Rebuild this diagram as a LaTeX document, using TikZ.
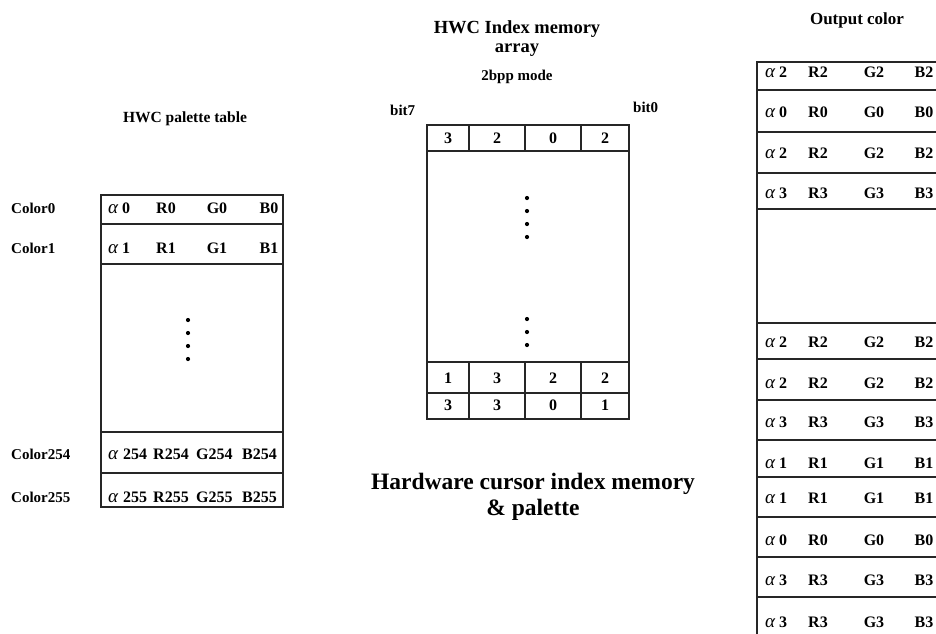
\documentclass[tikz,border=0pt]{standalone}
\usepackage{fontspec}
\setmainfont{Liberation Serif}
\begin{document}
\begin{tikzpicture}[x=1pt,y=-1pt,
  grid/.style={draw=black!85,line width=1.1pt},
  lbl/.style={inner sep=0pt,anchor=base,font=\fontsize{16}{18}\selectfont\bfseries},
  lbll/.style={lbl,anchor=base west},
  side/.style={lbll,font=\fontsize{15}{17}\selectfont\bfseries},
  dotm/.style={fill=black,circle,inner sep=0pt,minimum size=4.2pt}]
\useasboundingbox (0,0) rectangle (936,633);
\clip (0,0) rectangle (936,633);
\newcommand{\al}{{\fontsize{19}{18}\selectfont\itshape\mdseries α}}
% ---------------- left: palette table
\node[lbl,font=\fontsize{15.5}{18}\selectfont\bfseries] (t1) at (185,122) {HWC palette table};
\draw[grid] (101,195) rectangle (283,507);
\foreach \yy in {224,264,432,473} \draw[grid] (101,\yy) -- (283,\yy);
\node[side] (c0) at (11,213) {Color0};
\node[side] (c1) at (11,253) {Color1};
\node[side] (c254) at (11,459) {Color254};
\node[side] (c255) at (11,502) {Color255};
\node[lbll] (a0) at (108,213) {\al\ 0};
\node[lbl] (r0) at (166,213) {R0};
\node[lbl] (g0) at (217,213) {G0};
\node[lbl] (b0) at (269,213) {B0};
\node[lbll] (a1) at (108,253) {\al\ 1};
\node[lbl] (r1) at (166,253) {R1};
\node[lbl] (g1) at (217,253) {G1};
\node[lbl] (b1) at (269,253) {B1};
\foreach \yy/\n in {459/254,502/255} {
  \node[lbll] (pa\n) at (108,\yy) {\al};
  \node[lbll] (pn\n) at (123,\yy) {\n};
  \node[lbll] (pr\n) at (153,\yy) {R\n};
  \node[lbll] (pg\n) at (196,\yy) {G\n};
  \node[lbl,anchor=base east] (pb\n) at (277,\yy) {B\n};
}
\foreach \yy [count=\i] in {320,333,346,359} \node[dotm] (ld\i) at (188,\yy) {};
% ---------------- middle: index memory array
\node[lbl,font=\fontsize{18.5}{20}\selectfont\bfseries] (t2a) at (517,33) {HWC Index memory};
\node[lbl,font=\fontsize{18.5}{20}\selectfont\bfseries] (t2b) at (517,52) {array};
\node[lbl,font=\fontsize{15}{17}\selectfont\bfseries] (t2c) at (517,80) {2bpp mode};
\node[side] (b7) at (390,115) {bit7};
\node[side] (b0l) at (633,112) {bit0};
\draw[grid] (427,125) rectangle (629,419);
\foreach \yy in {151,362,393} \draw[grid] (427,\yy) -- (629,\yy);
\foreach \xx in {469,525,581} {
  \draw[grid] (\xx,125) -- (\xx,151);
  \draw[grid] (\xx,362) -- (\xx,419);
}
\node[lbl] (h1) at (448,143) {3};
\node[lbl] (h2) at (497,143) {2};
\node[lbl] (h3) at (553,143) {0};
\node[lbl] (h4) at (605,143) {2};
\node[lbl] (m1) at (448,383) {1};
\node[lbl] (m2) at (497,383) {3};
\node[lbl] (m3) at (553,383) {2};
\node[lbl] (m4) at (605,383) {2};
\node[lbl] (n1) at (448,410) {3};
\node[lbl] (n2) at (497,410) {3};
\node[lbl] (n3) at (553,410) {0};
\node[lbl] (n4) at (605,410) {1};
\foreach \yy [count=\i] in {198,211,224,237} \node[dotm] (md\i) at (527,\yy) {};
\foreach \yy [count=\i] in {319,332,345} \node[dotm] (me\i) at (527,\yy) {};
\node[lbl,font=\fontsize{23.5}{26}\selectfont\bfseries] (t4a) at (533,489) {Hardware cursor index memory};
\node[lbl,font=\fontsize{23.5}{26}\selectfont\bfseries] (t4b) at (533,515) {\& palette};
% ---------------- right: output color
\node[lbl,font=\fontsize{17}{19}\selectfont\bfseries] (t3) at (857,24) {Output color};
\draw[grid] (960,62) -- (757,62) -- (757,660);
\foreach \yy in {90,132,173,209,323,359,400,440,477,517,557,597} \draw[grid] (757,\yy) -- (960,\yy);
\foreach \yy/\n [count=\i] in {77/2,117/0,158/2,198/3,347/2,388/2,427/3,468/1,503/1,545/0,585/3,627/3} {
  \node[lbll] (oa\i) at (765,\yy) {\al\ \n};
  \node[lbl] (or\i) at (818,\yy) {R\n};
  \node[lbl] (og\i) at (874,\yy) {G\n};
  \node[lbl] (ob\i) at (924,\yy) {B\n};
}
\end{tikzpicture}
\end{document}
